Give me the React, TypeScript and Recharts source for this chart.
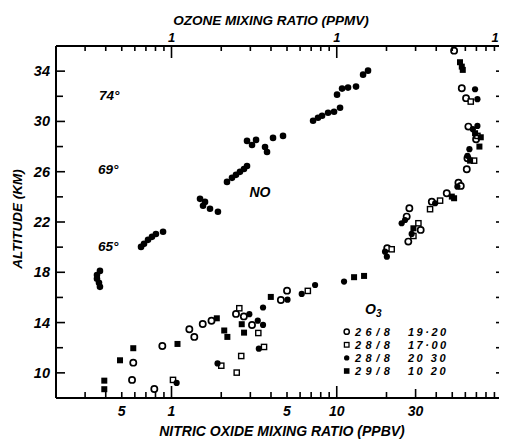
import React from 'react';
import { ScatterChart, Scatter, XAxis, YAxis } from 'recharts';

// Nitric oxide profile: [NO mixing ratio (ppbv), altitude (km)]
const noProfile: [number, number][] = [
  [0.369, 18.11], [0.354, 17.79], [0.354, 17.48], [0.364, 17.16], [0.369, 16.84],
  [0.654, 20.02], [0.682, 20.26], [0.721, 20.58], [0.762, 20.82], [0.805, 21.05], [0.889, 21.22],
  [1.488, 23.84], [1.595, 23.6], [1.552, 23.29], [1.71, 23.05], [1.91, 22.81],
  [2.167, 25.19], [2.323, 25.51], [2.456, 25.75], [2.596, 25.99], [2.745, 26.22], [2.864, 26.46],
  [2.864, 28.45], [3.071, 28.13], [3.248, 28.53], [3.681, 27.97], [3.785, 27.57], [4.115, 28.69], [4.73, 28.85],
  [7.19, 30.05], [7.7, 30.29], [8.15, 30.45], [8.86, 30.69], [9.63, 30.77], [10.47, 31.09],
  [10.04, 32.13], [10.77, 32.61], [11.7, 32.69], [13.08, 32.77], [14.43, 33.72], [15.46, 34.04],
];

// Ozone profiles: [O3 mixing ratio (ppmv), altitude (km)]
const o3_26_8_1920: [number, number][] = [
  [0.0587, 10.81], [0.0577, 9.44], [0.0787, 8.72], [0.088, 12.14], [0.1282, 13.47], [0.1374, 12.86],
  [0.1545, 13.89], [0.1746, 14.15], [0.2456, 14.69], [0.274, 14.49], [0.307, 13.81], [0.459, 15.8],
  [0.5002, 16.54], [5.13, 35.63], [5.71, 32.64], [6.06, 31.85], [6.26, 29.59], [6.97, 28.58],
  [6.18, 27.07], [6.12, 26.2], [5.45, 25.13], [5.63, 24.87], [4.63, 24.29], [3.76, 23.62],
  [2.75, 23.09], [2.65, 22.43], [3.22, 21.37], [2.71, 20.44], [2.02, 19.91],
];
const o3_28_8_1700: [number, number][] = [
  [0.1021, 9.44], [0.2001, 10.57], [0.2572, 15.14], [0.3352, 13.17], [0.6683, 16.52], [0.363, 12.06],
  [0.2642, 11.34], [0.2481, 10.02], [6.47, 31.58], [7.1, 28.85], [6.78, 26.88], [4.22, 23.7],
  [3.67, 23.02], [3.12, 21.9], [2.91, 20.89], [2.15, 19.83],
];
const o3_28_8_2030: [number, number][] = [
  [0.1074, 9.2], [0.1899, 10.75], [0.2958, 14.67], [0.3327, 14.15], [0.358, 13.81], [0.358, 15.2],
  [0.5036, 15.82], [0.6137, 16.28], [0.7394, 16.99], [0.3377, 11.92], [1.107, 17.26], [6.87, 32.56],
  [7.1, 31.77], [6.66, 29.38], [7.1, 29.64], [6.35, 27.79], [6.18, 27.26], [5.37, 24.81],
  [3.94, 23.49], [2.59, 22.16], [2.47, 21.9], [2.84, 21.05], [1.96, 19.64], [2.01, 19.24],
];
const o3_29_8_1020: [number, number][] = [
  [0.0392, 9.38], [0.0392, 8.7], [0.0488, 11.0], [0.0587, 11.96], [0.1087, 12.3], [0.188, 14.34],
  [0.2085, 13.37], [0.2178, 12.86], [0.2661, 13.87], [0.2748, 13.2], [0.399, 16.04], [1.273, 17.61],
  [1.463, 17.71], [5.57, 34.71], [5.71, 34.36], [5.79, 34.1], [6.87, 29.06], [7.44, 28.74],
  [7.3, 28.0], [6.41, 26.88], [4.97, 24.02], [5.13, 23.89], [2.91, 21.5],
];

const noTicks = [0.3, 0.4, 0.5, 0.6, 0.7, 0.8, 0.9, 1, 2, 3, 4, 5, 6, 7, 8, 9, 10, 20, 30, 40, 50, 60, 70, 80, 90];
const noTickLabels: [number, string][] = [[0.5, '5'], [1, '1'], [5, '5'], [10, '10'], [30, '30']];
const o3Ticks = [0.03, 0.04, 0.05, 0.06, 0.07, 0.08, 0.09, 0.1, 0.2, 0.3, 0.4, 0.5, 0.6, 0.7, 0.8, 0.9, 1, 2, 3, 4, 5, 6, 7, 8, 9, 10];
const o3TickLabels: [number, string][] = [[0.1, '1'], [1, '1'], [10, '10']];
const altTicks = [10, 12, 14, 16, 18, 20, 22, 24, 26, 28, 30, 32, 34];
const altTickLabels = [10, 14, 18, 22, 26, 30, 34];

const legendRows: [string, string][] = [
  ['26/8', '19·20'],
  ['28/8', '17·00'],
  ['28/8', '20 30'],
  ['29/8', '10 20'],
];

const toPts = (arr: [number, number][]) => arr.map(([x, y]) => ({ x, y }));

const FONT = "'Liberation Sans', Arial, sans-serif";
const txt = { fontFamily: FONT, fontWeight: 700, fontStyle: 'italic' as const, fill: '#000' };

const BottomTick = (p: any) => {
  const v = p.payload.value;
  const len = v === 1 || v === 10 ? 12 : v === 30 ? 9 : 6;
  const lab = noTickLabels.find((l) => l[0] === v);
  return (
    <g>
      <line x1={p.x} x2={p.x} y1={p.y} y2={p.y - len} stroke="#000" strokeWidth={1.6} />
      {lab && (
        <text x={p.x} y={p.y + 18} textAnchor="middle" fontSize={14} {...txt}>{lab[1]}</text>
      )}
    </g>
  );
};

const TopTick = (p: any) => {
  const v = p.payload.value;
  const len = v === 0.1 || v === 1 ? 12 : 5;
  const lab = o3TickLabels.find((l) => l[0] === v);
  const edge = v === 10;
  return (
    <g>
      <line x1={p.x} x2={p.x} y1={p.y} y2={p.y + len} stroke="#000" strokeWidth={1.6} />
      {lab && (
        <text x={edge ? p.x + 4 : p.x} y={p.y - 4} textAnchor={edge ? 'end' : 'middle'} fontSize={13} {...txt}>{lab[1]}</text>
      )}
    </g>
  );
};

const LeftTick = (p: any) => {
  const v = p.payload.value;
  const labeled = altTickLabels.includes(v);
  return (
    <g>
      <line x1={p.x} x2={p.x + (labeled ? 9 : 7)} y1={p.y} y2={p.y} stroke="#000" strokeWidth={1.6} />
      {labeled && (
        <text x={p.x - 6} y={p.y + 5} textAnchor="end" fontSize={14.5} {...txt}>{v}</text>
      )}
    </g>
  );
};

const RightTick = (p: any) => (
  <line x1={p.x} x2={p.x - 6} y1={p.y} y2={p.y} stroke="#000" strokeWidth={1.6} />
);

const OpenCircle = (p: any) => <circle cx={p.cx} cy={p.cy} r={3.1} fill="#fff" stroke="#000" strokeWidth={1.7} />;
const OpenSquare = (p: any) => <rect x={p.cx - 2.6} y={p.cy - 2.6} width={5.2} height={5.2} fill="#fff" stroke="#000" strokeWidth={1.4} />;
const FilledCircle = (p: any) => <circle cx={p.cx} cy={p.cy} r={3.1} fill="#000" />;
const FilledSquare = (p: any) => <rect x={p.cx - 3} y={p.cy - 3} width={6} height={6} fill="#000" />;
const NoDot = (p: any) => <circle cx={p.cx} cy={p.cy} r={3.3} fill="#000" />;

export default function App() {
  return (
    <div style={{ position: 'relative', width: 499, height: 431 }}>
      <ScatterChart width={499} height={431} margin={{ top: 37, right: 4, bottom: 40, left: 47 }}>
        <XAxis
          xAxisId="no" dataKey="x" type="number" scale="log" domain={[0.2, 100]} allowDataOverflow
          ticks={noTicks} interval={0} orientation="bottom" height={1} tickSize={0} tickMargin={0}
          axisLine={{ stroke: '#000', strokeWidth: 2 }} tick={BottomTick}
        />
        <XAxis
          xAxisId="o3" dataKey="x" type="number" scale="log" domain={[0.02, 10]} allowDataOverflow
          ticks={o3Ticks} interval={0} orientation="top" height={1} tickSize={0} tickMargin={0}
          axisLine={{ stroke: '#000', strokeWidth: 2 }} tick={TopTick}
        />
        <YAxis
          yAxisId="l" dataKey="y" type="number" domain={[8, 36]} allowDataOverflow ticks={altTicks}
          interval={0} orientation="left" width={1} tickSize={0} tickMargin={0}
          axisLine={{ stroke: '#000', strokeWidth: 2 }} tick={LeftTick}
        />
        <YAxis
          yAxisId="r" dataKey="y" type="number" domain={[8, 36]} allowDataOverflow ticks={altTicks}
          interval={0} orientation="right" width={1} tickSize={0} tickMargin={0}
          axisLine={{ stroke: '#000', strokeWidth: 2 }} tick={RightTick}
        />
        <Scatter name="NO" data={toPts(noProfile)} xAxisId="no" yAxisId="l" shape={NoDot} isAnimationActive={false} />
        <Scatter name="26/8 19:20" data={toPts(o3_26_8_1920)} xAxisId="o3" yAxisId="l" shape={OpenCircle} isAnimationActive={false} />
        <Scatter name="28/8 17:00" data={toPts(o3_28_8_1700)} xAxisId="o3" yAxisId="l" shape={OpenSquare} isAnimationActive={false} />
        <Scatter name="28/8 20:30" data={toPts(o3_28_8_2030)} xAxisId="o3" yAxisId="l" shape={FilledCircle} isAnimationActive={false} />
        <Scatter name="29/8 10:20" data={toPts(o3_29_8_1020)} xAxisId="o3" yAxisId="l" shape={FilledSquare} isAnimationActive={false} />
      </ScatterChart>
      <svg width={499} height={431} style={{ position: 'absolute', left: 0, top: 0, pointerEvents: 'none', overflow: 'visible' }}>
        <text x={263} y={17} textAnchor="middle" fontSize={13.5} {...txt}>OZONE MIXING RATIO (PPMV)</text>
        <text x={274} y={428} textAnchor="middle" fontSize={14} {...txt}>NITRIC OXIDE MIXING RATIO (PPBV)</text>
        <text transform="translate(14,211) rotate(-90)" textAnchor="middle" fontSize={13.5} {...txt}>ALTITUDE (KM)</text>
        <text x={91} y={92} fontSize={13.5} {...txt}>74°</text>
        <text x={90} y={166} fontSize={13.5} {...txt}>69°</text>
        <text x={90} y={243} fontSize={13.5} {...txt}>65°</text>
        <text x={252} y={189} textAnchor="middle" fontSize={14} {...txt}>NO</text>
        <text x={357} y={306} fontSize={14} {...txt}>O<tspan fontSize={10} dy={3}>3</tspan></text>
        {legendRows.map((r, i) => {
          const cy = 323.7 + i * 13.1;
          const mx = 338.7;
          return (
            <g key={i}>
              {i === 0 && <circle cx={mx} cy={cy} r={2.6} fill="#fff" stroke="#000" strokeWidth={1.5} />}
              {i === 1 && <rect x={mx - 2.3} y={cy - 2.3} width={4.6} height={4.6} fill="#fff" stroke="#000" strokeWidth={1.3} />}
              {i === 2 && <circle cx={mx} cy={cy} r={2.7} fill="#000" />}
              {i === 3 && <rect x={mx - 2.8} y={cy - 2.8} width={5.6} height={5.6} fill="#000" />}
              <text x={347} y={cy + 4} fontSize={11} letterSpacing={4.5} {...txt}>{r[0]}</text>
              <text x={400} y={cy + 4} fontSize={11} letterSpacing={2.5} {...txt}>{r[1]}</text>
            </g>
          );
        })}
      </svg>
    </div>
  );
}
